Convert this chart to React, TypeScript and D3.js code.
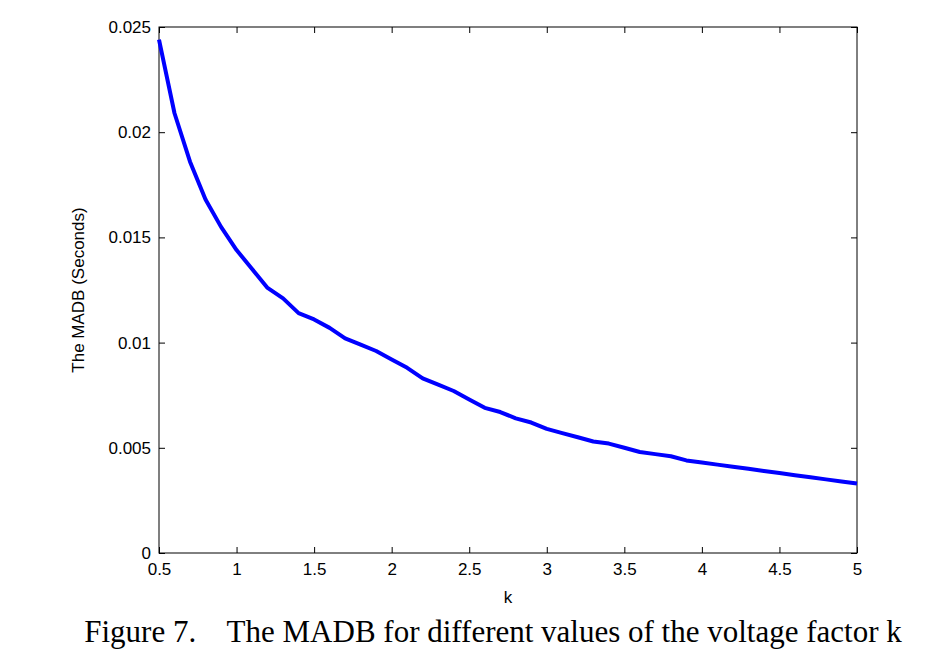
import React, { useEffect, useRef } from "react";
import * as d3 from "d3";

const kValues = [0.5, 0.6, 0.7, 0.8, 0.9, 1.0, 1.1, 1.2, 1.3, 1.4, 1.5, 1.6, 1.7, 1.8, 1.9, 2.0, 2.1, 2.2, 2.3, 2.4, 2.5, 2.6, 2.7, 2.8, 2.9, 3.0, 3.1, 3.2, 3.3, 3.4, 3.5, 3.6, 3.7, 3.8, 3.9, 4.0, 4.1, 4.2, 4.3, 4.4, 4.5, 4.6, 4.7, 4.8, 4.9, 5.0];
const madb = [0.0244, 0.0209, 0.0186, 0.0168, 0.0155, 0.0144, 0.0135, 0.0126, 0.0121, 0.0114, 0.0111, 0.0107, 0.0102, 0.0099, 0.0096, 0.0092, 0.0088, 0.0083, 0.0080, 0.0077, 0.0073, 0.0069, 0.0067, 0.0064, 0.0062, 0.0059, 0.0057, 0.0055, 0.0053, 0.0052, 0.0050, 0.0048, 0.0047, 0.0046, 0.0044, 0.0043, 0.0042, 0.0041, 0.0040, 0.0039, 0.0038, 0.0037, 0.0036, 0.0035, 0.0034, 0.0033];
const xTicks = [0.5, 1, 1.5, 2, 2.5, 3, 3.5, 4, 4.5, 5];
const yTicks = [0, 0.005, 0.01, 0.015, 0.02, 0.025];

const App: React.FC = () => {
  const ref = useRef<SVGSVGElement>(null);

  useEffect(() => {
    const width = 930;
    const height = 656;
    const m = { left: 159, right: 73, top: 27, bottom: 103 };
    const svg = d3.select(ref.current).attr("width", width).attr("height", height);
    svg.selectAll("*").remove();

    const x = d3.scaleLinear().domain([0.5, 5]).range([m.left, width - m.right]);
    const y = d3.scaleLinear().domain([0, 0.025]).range([height - m.bottom, m.top]);
    const font = "Arial, 'Liberation Sans', sans-serif";

    svg.append("rect").attr("width", width).attr("height", height).attr("fill", "white");

    // ticks pointing inward
    const xAxis = svg.append("g").attr("transform", `translate(0,${y(0)})`)
      .call(d3.axisBottom(x).tickValues(xTicks).tickSizeInner(-6).tickSizeOuter(0).tickPadding(10).tickFormat(d => String(d)));
    const xTop = svg.append("g").attr("transform", `translate(0,${m.top})`)
      .call(d3.axisTop(x).tickValues(xTicks).tickSizeInner(-6).tickSizeOuter(0).tickFormat(() => ""));
    const yAxis = svg.append("g").attr("transform", `translate(${m.left},0)`)
      .call(d3.axisLeft(y).tickValues(yTicks).tickSizeInner(-6).tickSizeOuter(0).tickPadding(8).tickFormat(d => String(+d)));
    const yRight = svg.append("g").attr("transform", `translate(${width - m.right},0)`)
      .call(d3.axisRight(y).tickValues(yTicks).tickSizeInner(-6).tickSizeOuter(0).tickFormat(() => ""));
    [xAxis, xTop, yAxis, yRight].forEach(g => {
      g.select(".domain").remove();
      g.selectAll("line").attr("stroke", "black");
      g.selectAll("text").attr("font-family", font).attr("font-size", 17).attr("fill", "black");
    });

    svg.append("rect").attr("x", m.left).attr("y", m.top)
      .attr("width", x(5) - x(0.5)).attr("height", y(0) - y(0.025))
      .attr("fill", "none").attr("stroke", "black").attr("stroke-width", 1);

    const line = d3.line<number>().x((_, i) => x(kValues[i])).y(d => y(d));
    svg.append("path").datum(madb).attr("d", line).attr("fill", "none")
      .attr("stroke", "#0000ff").attr("stroke-width", 4).attr("stroke-linejoin", "round");

    svg.append("text").attr("x", (m.left + width - m.right) / 2).attr("y", 603)
      .attr("text-anchor", "middle").attr("font-family", font).attr("font-size", 17).text("k");
    svg.append("text").attr("transform", `translate(84,${(m.top + height - m.bottom) / 2}) rotate(-90)`)
      .attr("text-anchor", "middle").attr("font-family", font).attr("font-size", 17).text("The MADB (Seconds)");
    svg.append("text").attr("x", 493).attr("y", 642).attr("text-anchor", "middle")
      .attr("font-family", "'Times New Roman', 'Liberation Serif', serif").attr("font-size", 31)
      .attr("xml:space", "preserve").text("Figure 7.    The MADB for different values of the voltage factor k");
  }, []);

  return <svg ref={ref} style={{ display: "block", position: "absolute", left: 0, top: 0 }}></svg>;
};

export default App;
